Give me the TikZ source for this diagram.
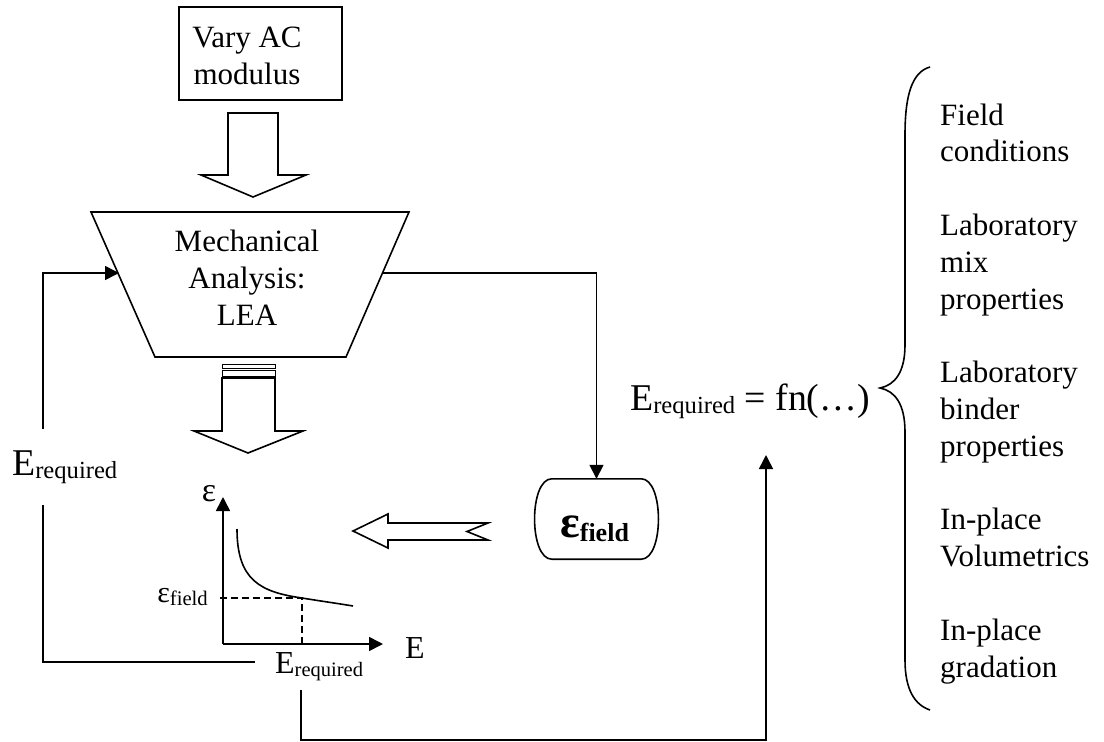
\documentclass[tikz,border=0pt]{standalone}
\usepackage{fontspec}
\setmainfont{Liberation Serif}
\usetikzlibrary{arrows.meta,calc}
\newcommand\setfs[1]{\fontsize{#1}{#1}\selectfont}
\newcommand\Ereq[3]{{\setfs{#1}E}\raisebox{-#3}{\setfs{#2}required}}
\tikzset{
  ln/.style={line width=1.6pt},
  tipped/.style={-{Triangle[length=14pt,width=14pt]}},
  txt/.style={inner sep=0pt, anchor=base, font=\setfs{31pt}},
  lst/.style={inner sep=0pt, anchor=base west, font=\setfs{31pt}},
}
\begin{document}
\begin{tikzpicture}[x=1pt,y=-1pt,line join=miter]
\useasboundingbox (0,0) rectangle (1104,742);

% Vary AC modulus box
\node[draw, ln, minimum width=163pt, minimum height=93pt, inner sep=0pt] (vary) at (260.5,53.5) {};
\node[txt] (vary1) at (247,47) {Vary AC};
\node[txt] (vary2) at (247,84) {modulus};

% block arrow 1
\draw[ln] (228,113) -- (278,113) -- (278,175) -- (306,175) -- (253,197) -- (201,175) -- (228,175) -- cycle;

% trapezoid
\draw[ln] (91,212) -- (409,212) -- (346,357) -- (155,357) -- cycle;
\coordinate (mechL) at (119,273);
\coordinate (mechR) at (383,273);
\node[txt] (mech1) at (247,251) {Mechanical};
\node[txt] (mech2) at (247,288) {Analysis:};
\node[txt] (mech3) at (247,325) {LEA};

% striped block arrow 2
\draw[line width=1pt] (222,364) rectangle (275,368);
\draw[line width=1pt] (222,370.5) rectangle (275,376);
\draw[ln] (222,378) -- (275,378) -- (275,431) -- (303,431) -- (248,453) -- (194,431) -- (222,431) -- cycle;

% graph
\coordinate (O) at (223,644);
\coordinate (ytip) at (223,497);
\coordinate (xtip) at (383,644);
\draw[ln, tipped] (O) -- (ytip);
\draw[ln, tipped] (O) -- (xtip);
\node[inner sep=0pt, anchor=base, font=\setfs{34pt}] (epsax) at (209,501) {ε};
\node[inner sep=0pt, anchor=base west, font=\setfs{32pt}] (Eax) at (405,658) {E};
\draw[ln] (237,529) .. controls (237,580) and (260,592) .. (302,598) .. controls (320,601) and (335,603) .. (353,606);
\coordinate (pt) at (302,598);
\draw[ln, dash pattern=on 7pt off 4pt] (220,598) -- (pt) -- (302,643);
\node[inner sep=0pt, anchor=base east] (efg) at (208,602) {{\setfs{30pt}ε}\raisebox{-3pt}{\setfs{20.7pt}field}};
\node[inner sep=0pt, anchor=base west] (ereqg) at (275,673) {\Ereq{32pt}{20.5pt}{3pt}};

% left label and loop
\node[inner sep=0pt, anchor=base west] (ereqL) at (12,475) {\Ereq{37.8pt}{24.6pt}{3pt}};
\coordinate (la) at (43,429);
\coordinate (lb) at (43,505);
\coordinate (lc) at (255,662);
\draw[ln, tipped] (la) |- (mechL);
\draw[ln] (lb) |- (lc);

% epsilon field box
\node[inner sep=0pt, minimum width=123pt, minimum height=80pt] (efield) at (596.5,519) {};
\node[inner sep=0pt, anchor=base west, font=\bfseries] (eftxt) at (560,537) {{\setfs{46pt}ε}\raisebox{-4pt}{\setfs{26pt}field}};
\draw[ln] ($(efield.north west)+(17,0)$) -- ($(efield.north east)+(-17,0)$)
  .. controls ($(efield.north east)+(6,0)$) and ($(efield.south east)+(6,0)$) .. ($(efield.south east)+(-17,0)$)
  -- ($(efield.south west)+(17,0)$)
  .. controls ($(efield.south west)+(-6,0)$) and ($(efield.north west)+(-6,0)$) .. cycle;
\draw[ln, tipped] (mechR) -| (efield.north);

% left block arrow
\draw[ln] (353,531) -- (388,514) -- (388,523) -- (488,523) -- (467,531.5) -- (488,540) -- (388,540) -- (388,548) -- cycle;

% formula
\node[inner sep=0pt, anchor=base west] (formula) at (630,410) {\Ereq{37.8pt}{24.6pt}{3pt}{\setfs{37.8pt} = fn(…)}};
\coordinate (b0) at (301,690);
\coordinate (b1) at (766,740);
\coordinate (fup) at (766,455);
\draw[ln, tipped] (b0) |- (b1) -- (fup);

% brace
\draw[ln] (930,67) .. controls (912,72) and (905,95) .. (905,135) -- (905,345)
  .. controls (905,372) and (895,385) .. (880,388)
  .. controls (895,391) and (905,404) .. (905,432) -- (905,660)
  .. controls (905,690) and (915,705) .. (930,710);

% list
\node[lst] (r1) at (940,125) {Field};
\node[lst] (r2) at (940,161.8) {conditions};
\node[lst] (r3) at (940,235.4) {Laboratory};
\node[lst] (r4) at (940,272.2) {mix};
\node[lst] (r5) at (940,309) {properties};
\node[lst] (r6) at (940,382.6) {Laboratory};
\node[lst] (r7) at (940,419.4) {binder};
\node[lst] (r8) at (940,456.2) {properties};
\node[lst] (r9) at (940,529.8) {In-place};
\node[lst] (r10) at (940,566.6) {Volumetrics};
\node[lst] (r11) at (940,640.2) {In-place};
\node[lst] (r12) at (940,677) {gradation};
\end{tikzpicture}
\end{document}
